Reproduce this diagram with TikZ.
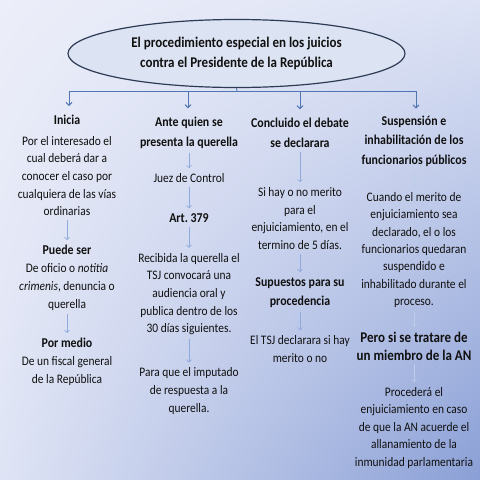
\documentclass[tikz,border=0pt]{standalone}
\usepackage{fontspec}
\setmainfont{Carlito}[FakeStretch=0.88]
\usetikzlibrary{shapes.geometric, arrows.meta, shadings}
\frenchspacing

\definecolor{bgUL}{HTML}{ECEEF9}
\definecolor{bgUR}{HTML}{DDE3F5}
\definecolor{bgLL}{HTML}{DFE4F5}
\definecolor{bgLR}{HTML}{8A9FD6}
\definecolor{ink}{HTML}{101010}
\definecolor{rimline}{HTML}{2E3B55}
\definecolor{rimfill}{HTML}{DCE3F3}
\definecolor{branchblue}{HTML}{5175B0}
\definecolor{flowblue}{HTML}{8FAADD}

\begin{document}
\begin{tikzpicture}[x=1pt, y=-1pt,
    txt/.style={align=center, inner sep=0pt, text=ink, font=\fontsize{13}{17.7}\selectfont},
    head/.style={align=center, inner sep=0pt, text=ink, font=\fontsize{13.5}{19.5}\selectfont\bfseries},
    flow/.style={draw=flowblue, line width=0.6pt, -{Straight Barb[length=2.5pt,width=5pt]}, shorten <=4pt, shorten >=5pt},
    branch/.style={draw=branchblue, line width=0.9pt}]
        \useasboundingbox (0,0) rectangle (480,480);
        \shade[upper left=bgUL, upper right=bgUR, lower left=bgLL, lower right=bgLR] (0,0) rectangle (480,480);

        \node[ellipse, draw=rimline, line width=1.2pt, fill=rimfill, minimum width=337pt, minimum height=68pt,
              inner sep=0pt, align=center, text=ink, font=\fontsize{14.8}{20}\selectfont\bfseries]
              (title) at (236.5,53.5) {El procedimiento especial en los juicios\\contra el Presidente de la República};

        % first column
        \node[head] (inicia) at (67,120) {Inicia};
        \node[txt] (interesado) at (67,176) {Por el interesado el\\cual deberá dar a\\conocer el caso por\\cualquiera de las vías\\ordinarias};
        \node[head] (puede) at (67,250) {Puede ser};
        \node[txt] (oficio) at (67,287) {De oficio o \textit{notitia}\\\textit{crimenis}, denuncia o\\querella};
        \node[head] (medio) at (67,343) {Por medio};
        \node[txt] (fiscal) at (67,371) {De un fiscal general\\de la República};

        % second column
        \node[head] (ante) at (189,133) {Ante quien se\\presenta la querella};
        \node[txt] (juez) at (189,178) {Juez de Control};
        \node[head] (art) at (189,218) {Art. 379};
        \node[txt] (recibida) at (189,294) {Recibida la querella el\\TSJ convocará una\\audiencia oral y\\publica dentro de los\\30 días siguientes.};
        \node[txt] (para) at (189,391) {Para que el imputado\\de respuesta a la\\querella.};

        % third column
        \node[head] (concluido) at (300,133) {Concluido el debate\\se declarara};
        \node[txt] (sihay) at (300,218.5) {Si hay o no merito\\para el\\enjuiciamiento, en el\\termino de 5 días.};
        \node[head] (supuestos) at (300,292.5) {Supuestos para su\\procedencia};
        \node[txt] (tsj) at (300,349) {El TSJ declarara si hay\\merito o no};

        % fourth column
        \node[head] (suspension) at (414,141) {Suspensión e\\inhabilitación de los\\funcionarios públicos};
        \node[txt, font=\fontsize{13}{17.3}\selectfont] (cuando) at (414,250) {Cuando el merito de\\enjuiciamiento sea\\declarado, el o los\\funcionarios quedaran\\suspendido e\\inhabilitado durante el\\proceso.};
        \node[head, font=\fontsize{14.8}{18}\selectfont\bfseries] (pero) at (414,346) {Pero si se tratare de\\un miembro de la AN};
        \node[txt, font=\fontsize{13}{17.5}\selectfont] (procedera) at (414,428) {Procederá el\\enjuiciamiento en caso\\de que la AN acuerde el\\allanamiento de la\\inmunidad parlamentaria};

        % branches from the title
        \coordinate (hub) at (237,91);
        \coordinate (bar1) at (69,91);
        \coordinate (bar2) at (188,91);
        \coordinate (bar3) at (300,91);
        \coordinate (bar4) at (416,91);
        \draw[branch] (title.south) -- (hub);
        \draw[branch] (bar1) -- (bar4);
        \draw[branch, -{Straight Barb[length=3pt,width=6pt]}, shorten >=9pt] (bar1) -- (bar1 |- inicia.north);
        \draw[branch, -{Straight Barb[length=3pt,width=6pt]}, shorten >=9pt] (bar2) -- (bar2 |- ante.north);
        \draw[branch, -{Straight Barb[length=3pt,width=6pt]}, shorten >=9pt] (bar3) -- (bar3 |- concluido.north);
        \draw[branch, -{Straight Barb[length=3pt,width=6pt]}, shorten >=7pt] (bar4) -- (bar4 |- suspension.north);

        % arrows inside the columns
        \draw[flow] (interesado) -- (puede);
        \draw[flow] (oficio) -- (medio);
        \draw[flow] (ante) -- (juez);
        \draw[flow] (juez) -- (art);
        \draw[flow] (art) -- (recibida);
        \draw[flow] (recibida) -- (para);
        \draw[flow] (concluido) -- (sihay);
        \draw[flow] (sihay) -- (supuestos);
        \draw[flow] (supuestos) -- (tsj);
        \draw[flow, draw=flowblue!60!white] (suspension) -- (cuando);
        \draw[flow, draw=flowblue!60!white] (cuando) -- (pero);
        \draw[flow, draw=flowblue!60!white] (pero) -- (procedera);
\end{tikzpicture}
\end{document}
